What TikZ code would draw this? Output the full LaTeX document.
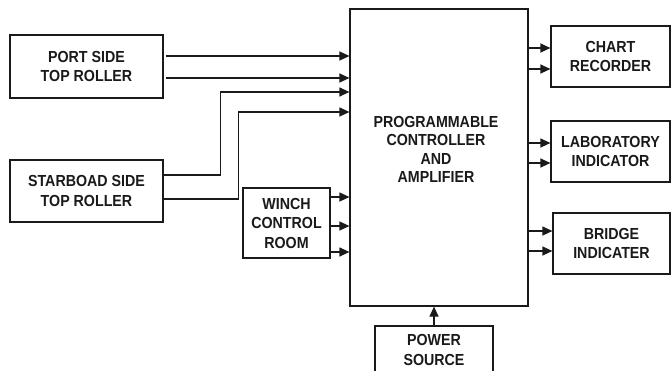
\documentclass[tikz,border=0pt]{standalone}
\usepackage{fontspec}
\setmainfont{Liberation Sans}
\newfontfamily\boxfont[FakeStretch=0.89]{Liberation Sans}
\usepackage{tikz}
\usetikzlibrary{
  arrows.meta,
  positioning,
  calc,
}
\definecolor{ink}{HTML}{1A1A1A}
\definecolor{pagebg}{HTML}{FFFFFF}
\tikzset{
  >={Triangle[length=10pt,width=9pt]},
  every node/.append style={text=ink},
  unit/.style={
    draw=ink,
    line width=1.2pt,
    align=center,
    inner sep=0pt,
    font=\boxfont\bfseries\fontsize{16}{19.5}\selectfont,
  },
  caption/.style={
    align=center,
    inner sep=0pt,
    font=\boxfont\bfseries\fontsize{16}{18.5}\selectfont,
  },
  flow/.style={draw=ink, line width=1.2pt, ->},
}

\begin{document}
\begin{tikzpicture}[x=1pt,y=-1pt]
  \clip (0,0) rectangle (671,370);
  \fill[pagebg] (0,0) rectangle (671,370);

  % central unit
  \node[unit, minimum width=178pt, minimum height=297pt,
    label={[caption, xshift=-3pt, yshift=8pt]center:PROGRAMMABLE\\CONTROLLER\\AND\\AMPLIFIER}]
    (main) at (439,157.5) {};

  % inputs
  \node[unit, minimum width=153pt, minimum height=63pt] (port) at (86.5,66.5)
    {PORT SIDE\\TOP ROLLER};
  \node[unit, minimum width=153pt, minimum height=62pt] (starboard) at (86.5,191)
    {STARBOAD SIDE\\TOP ROLLER};
  \node[unit, minimum width=87pt, minimum height=70pt] (winch) at (286.5,223)
    {WINCH\\CONTROL\\ROOM};
  \node[unit, minimum width=118pt, minimum height=48pt] (power) at (434,350)
    {POWER\\SOURCE};

  % outputs
  \node[unit, minimum width=119pt, minimum height=61pt] (chart) at (610.5,56.5)
    {CHART\\RECORDER};
  \node[unit, minimum width=119pt, minimum height=61pt] (lab) at (610.5,151.5)
    {LABORATORY\\INDICATOR};
  \node[unit, minimum width=117pt, minimum height=61pt] (bridge) at (611.5,243.5)
    {BRIDGE\\INDICATER};

  % port side -> controller
  \draw[flow] ([xshift=2pt]port.east |- 0,56) -- (main.west |- 0,56);
  \draw[flow] ([xshift=2pt]port.east |- 0,78) -- (main.west |- 0,78);

  % starboard side -> controller
  \draw[flow] (starboard.east |- 0,175) -- ++(57,0) |- (main.west |- 0,92);
  \draw[flow] (starboard.east |- 0,199) -- ++(75,0) |- (main.west |- 0,112);

  % winch control room -> controller
  \foreach \y in {197,226,252}
    \draw[flow] (winch.east |- 0,\y) -- (main.west |- 0,\y);

  % controller -> outputs
  \foreach \y in {48,69}
    \draw[flow] (main.east |- 0,\y) -- (chart.west |- 0,\y);
  \foreach \y in {143,163}
    \draw[flow] (main.east |- 0,\y) -- (lab.west |- 0,\y);
  \foreach \y in {231,251}
    \draw[flow] (main.east |- 0,\y) -- (bridge.west |- 0,\y);

  % power
  \draw[flow] (power.north) -- (main.south -| power.north);
\end{tikzpicture}
\end{document}
